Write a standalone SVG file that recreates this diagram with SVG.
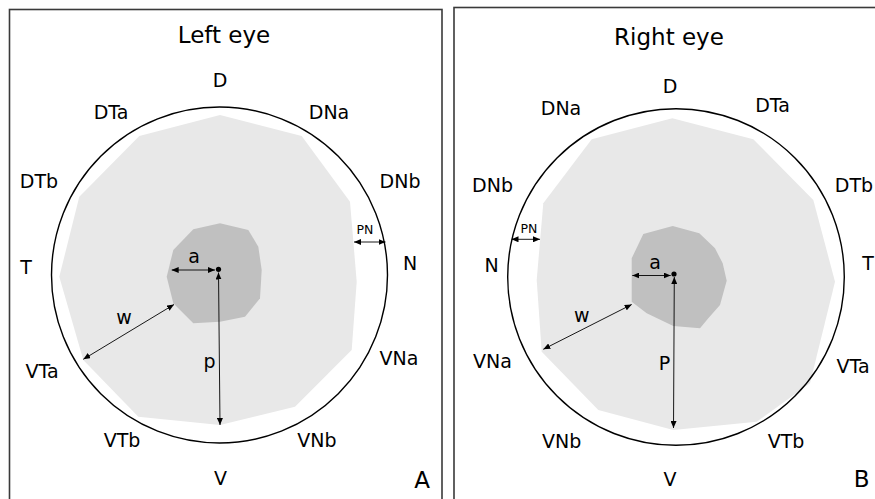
<svg xmlns="http://www.w3.org/2000/svg" width="875" height="499" viewBox="0 0 875 499">
  <defs>
    <marker id="ah" viewBox="0 0 7 6" refX="7" refY="3" markerWidth="7" markerHeight="6" markerUnits="userSpaceOnUse" orient="auto-start-reverse">
      <path d="M0,0 L7,3 L0,6 z" fill="#000"/>
    </marker>
  </defs>
  <style>
    .frame { fill: #fff; stroke: #3a3a3a; stroke-width: 1.6; }
    .ring { fill: none; stroke: #000; stroke-width: 1.4; }
    .light { fill: #e8e8e8; stroke: none; }
    .dark { fill: #c0c0c0; stroke: none; }
    .lbl { font-family: "DejaVu Sans", Verdana, sans-serif; font-size: 19px; fill: #000; text-anchor: middle; }
    .title { font-size: 23px; }
    .pn { font-size: 12.5px; }
    .dim { stroke: #000; stroke-width: 0.9; fill: none; marker-start: url(#ah); marker-end: url(#ah); }
  </style>
  <rect width="875" height="499" fill="#fff"/>

  <g id="left-panel">
    <rect class="frame" x="9.5" y="9.5" width="432.5" height="500"/>
    <polygon class="light" points="220,115 301.7,136 350,201.7 356.7,281.7 351.7,350 295,406.7 220,425 138.3,416.7 83.3,360 59.3,276.7 79.3,196.7 139.3,136"/>
    <circle class="ring" cx="219.5" cy="275" r="168"/>
    <polygon class="dark" points="220,223.3 248.3,230 258.3,246.7 261.7,270 260,298.3 245,316.7 220,321.7 193.3,323.3 173.3,303.3 166.7,276.7 173.3,250 193.3,229.3"/>
    <circle cx="218.5" cy="269.3" r="2.6" fill="#000"/>
    <text class="lbl title" x="224" y="43">Left eye</text>
    <text class="lbl" x="220" y="87">D</text>
    <text class="lbl" x="111" y="119">DTa</text>
    <text class="lbl" x="329" y="119">DNa</text>
    <text class="lbl" x="39" y="188">DTb</text>
    <text class="lbl" x="400" y="188">DNb</text>
    <text class="lbl pn" x="365" y="234">PN</text>
    <text class="lbl" x="26" y="274">T</text>
    <text class="lbl" x="410" y="270">N</text>
    <text class="lbl" x="194" y="263">a</text>
    <text class="lbl" x="124" y="324">w</text>
    <text class="lbl" x="209.5" y="368">p</text>
    <text class="lbl" x="42" y="378">VTa</text>
    <text class="lbl" x="399" y="365">VNa</text>
    <text class="lbl" x="122" y="447">VTb</text>
    <text class="lbl" x="317" y="447">VNb</text>
    <text class="lbl" x="220.5" y="485">V</text>
    <text class="lbl title" x="422" y="488">A</text>
  </g>

  <g id="right-panel">
    <rect class="frame" x="454" y="7.5" width="440" height="500"/>
    <polygon class="light" points="672.3,118.3 753.3,139.3 813.3,200 835,281.7 810,383.3 756.7,421.7 673.3,430 598.3,410 541.7,351.7 536.7,280 543.3,203.3 591.7,139.3"/>
    <circle class="ring" cx="676" cy="277" r="168.3"/>
    <polygon class="dark" points="672.7,226 699.3,233.3 715,248.3 722.7,263.3 726.7,280.7 720,305 708.3,318.3 700,328.3 673.3,326 646.7,313.3 631.7,301.7 631.7,258.3 643.3,234"/>
    <circle cx="674" cy="274" r="2.6" fill="#000"/>
    <text class="lbl title" x="669" y="45">Right eye</text>
    <text class="lbl" x="670" y="93">D</text>
    <text class="lbl" x="561" y="115">DNa</text>
    <text class="lbl" x="772.5" y="112">DTa</text>
    <text class="lbl" x="492.5" y="191.5">DNb</text>
    <text class="lbl" x="854" y="191.5">DTb</text>
    <text class="lbl" x="868" y="270">T</text>
    <text class="lbl pn" x="529" y="233">PN</text>
    <text class="lbl" x="491.7" y="271.5">N</text>
    <text class="lbl" x="655" y="269">a</text>
    <text class="lbl" x="581.7" y="321.5">w</text>
    <text class="lbl" x="664.5" y="370">P</text>
    <text class="lbl" x="492.5" y="368">VNa</text>
    <text class="lbl" x="853" y="373">VTa</text>
    <text class="lbl" x="561.7" y="448">VNb</text>
    <text class="lbl" x="786" y="448">VTb</text>
    <text class="lbl" x="670" y="486">V</text>
    <text class="lbl title" x="861.7" y="487">B</text>
  </g>

  <g id="connectors">
    <line class="dim" x1="171.7" y1="270" x2="215" y2="270"/>
    <line class="dim" x1="218.5" y1="272.5" x2="220" y2="425"/>
    <line class="dim" x1="174" y1="304.5" x2="83.3" y2="359.3"/>
    <line class="dim" x1="354" y1="242" x2="385.5" y2="242"/>
    <line class="dim" x1="632.3" y1="275.5" x2="670.7" y2="275.5"/>
    <line class="dim" x1="674.3" y1="277" x2="673.5" y2="428"/>
    <line class="dim" x1="631.7" y1="304.5" x2="543.3" y2="349.3"/>
    <line class="dim" x1="511.5" y1="239.3" x2="540" y2="239.3"/>
  </g>
</svg>
